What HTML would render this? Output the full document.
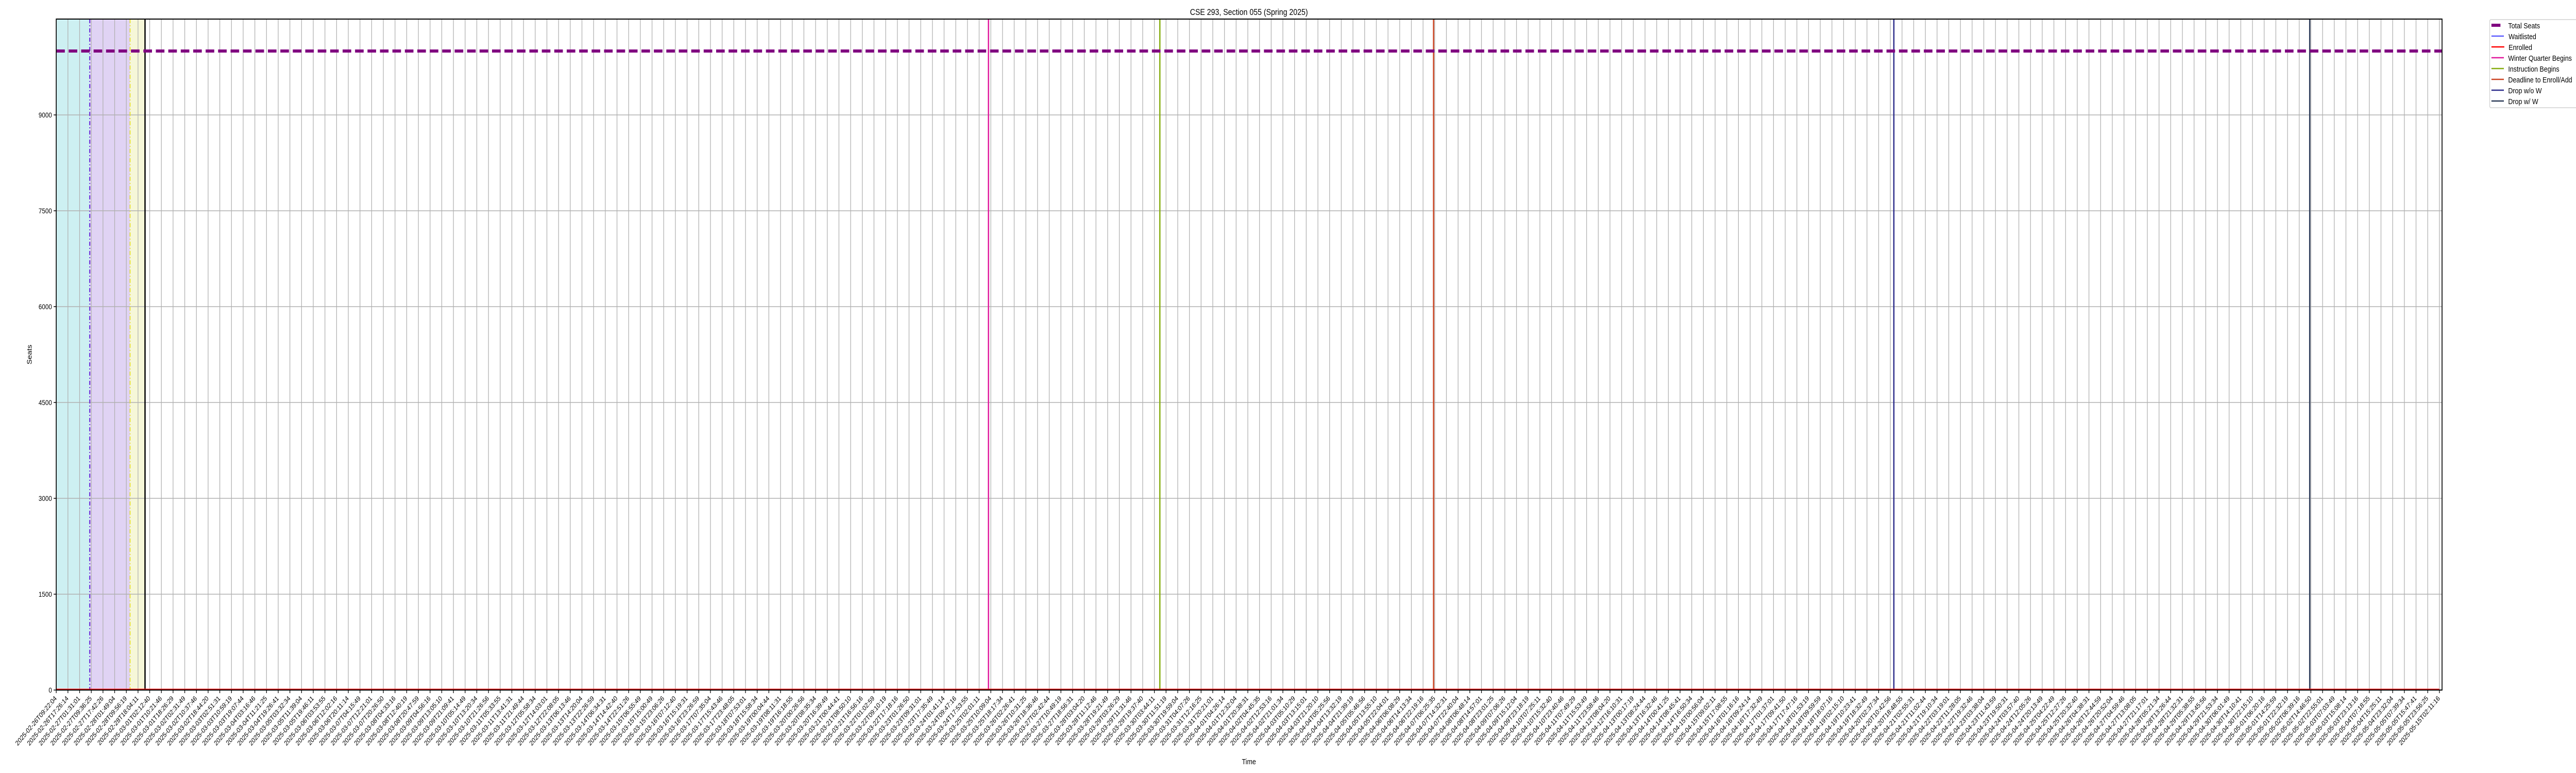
<!DOCTYPE html>
<html><head><meta charset="utf-8"><style>
html,body{margin:0;padding:0;background:#fff;overflow:hidden;width:100vw;height:100vh;}
svg{display:block;font-family:"Liberation Sans","DejaVu Sans",sans-serif;width:100vw;height:100vh;}
</style></head><body>
<svg id="chart" viewBox="0 0 6000 1500" preserveAspectRatio="none" xmlns="http://www.w3.org/2000/svg">
<text x="2909" y="29" font-size="17" text-anchor="middle" fill="#000">CSE 293, Section 055 (Spring 2025)</text>
<text x="2909" y="1483" font-size="15" text-anchor="middle" fill="#000">Time</text>
<text x="74" y="688" font-size="15" text-anchor="middle" fill="#000" transform="rotate(-90 74 688)">Seats</text>
<g id="plot"></g>
<g>
<rect x="5799" y="38" width="210" height="171" rx="3" fill="#fff" stroke="#d0d0d0" stroke-width="1.5"/>
<line x1="5803" y1="49" x2="5824" y2="49" stroke="purple" stroke-width="6"/>
<text x="5842" y="55" font-size="15">Total Seats</text>
<line x1="5803" y1="70" x2="5832" y2="70" stroke="blue" stroke-width="1.5"/>
<text x="5843" y="76" font-size="15">Waitlisted</text>
<line x1="5803" y1="91" x2="5833" y2="91" stroke="red" stroke-width="2.5"/>
<text x="5843" y="97" font-size="15">Enrolled</text>
<line x1="5803" y1="112" x2="5832" y2="112" stroke="#e0189c" stroke-width="2.5"/>
<text x="5842" y="118" font-size="15">Winter Quarter Begins</text>
<line x1="5803" y1="133" x2="5832" y2="133" stroke="#86ad10" stroke-width="2.5"/>
<text x="5842" y="139" font-size="15">Instruction Begins</text>
<line x1="5803" y1="154" x2="5832" y2="154" stroke="#cc4422" stroke-width="2.5"/>
<text x="5842" y="160" font-size="15">Deadline to Enroll/Add</text>
<line x1="5803" y1="175" x2="5832" y2="175" stroke="#2b2b8a" stroke-width="2.5"/>
<text x="5842" y="181" font-size="15">Drop w/o W</text>
<line x1="5803" y1="196" x2="5832" y2="196" stroke="#2c3a58" stroke-width="2.5"/>
<text x="5842" y="202" font-size="15">Drop w/ W</text>
</g>
</svg>
<script>
// ---- data ----
const yTicks = [0, 1500, 3000, 4500, 6000, 7500, 9000];
const totalSeats = 10000;
const enrolledValue = 0;
const waitlistedValue = 0;
const startLabel = "2025-02-26T09:22:04";
const endLabel = "2025-05-15T02:11:16";
const nTicks = 205;
// Tick labels (approximate ~8h sampling)
const xLabels = [];
(function(){
  let t = Date.UTC(2025,1,26,9,22,4);
  for (let i=0;i<nTicks;i++){
    if (i===nTicks-1){ xLabels.push(endLabel); break; }
    xLabels.push(new Date(t).toISOString().slice(0,19));
    t += (8*3600 + ((i*37)%300) + 250)*1000;
  }
  xLabels[0]=startLabel;
})();
const shadeStarts = [0, 2.87, 6.32];
const shadeEnds = [2.87, 6.32, 7.60];
const shadeColors = ["#cdf0f2","#e0d3f4","#f6f7d8"];
const eventIdx = [2.87, 6.32, 7.60, 79.8, 94.47, 117.9, 157.3, 192.9];
const eventNames = ["waitlist-open-line","enroll-open-line","first-pass-line","winter-quarter-begins-line","instruction-begins-line","deadline-enroll-line","drop-wo-w-line","drop-w-w-line"];

// ---- axes ----
const L=131, R=5688, T=37, B=1339, step=27.21;
const yMax=10500;
const X = i => L + i*step;
const Y = v => B - v/yMax*(B-T);
const NS="http://www.w3.org/2000/svg";
const g=document.getElementById('plot');
function mk(tag, attrs){const e=document.createElementNS(NS,tag);for(const k in attrs)e.setAttribute(k,attrs[k]);g.appendChild(e);return e;}

for(let k=0;k<shadeStarts.length;k++){
  const r=mk('rect',{x:X(shadeStarts[k]),y:T,width:X(shadeEnds[k])-X(shadeStarts[k]),height:B-T,fill:shadeColors[k]});
  
  
}
for(let i=0;i<xLabels.length;i++){
  const x=X(i);
  const gl=mk('line',{x1:x,y1:T,x2:x,y2:B,stroke:'#b0b0b0','stroke-width':1.5});
  
  
  const tk=mk('line',{x1:x,y1:B,x2:x,y2:B+6,stroke:'#000','stroke-width':1.5});
  
  
  const tx=mk('text',{x:x+2,y:B+17,'font-size':13.5,'text-anchor':'end',transform:`rotate(-45 ${x+2} ${B+17})`});
  tx.textContent=xLabels[i];
  
  
}
for(const v of yTicks){
  const y=Y(v);
  const gl=mk('line',{x1:L,y1:y,x2:R,y2:y,stroke:'#b0b0b0','stroke-width':1.5});
  
  
  const tk=mk('line',{x1:L-6,y1:y,x2:L,y2:y,stroke:'#000','stroke-width':1.5});
  
  
  const tx=mk('text',{x:L-10,y:y+5,'font-size':14,'text-anchor':'end'});
  tx.textContent=v;
  
  
}
const evStyles=[
 {stroke:'#6a28d8',w:2.5,dash:'8,4,2,4'},
 {stroke:'#e6e020',w:2,dash:'8,4,2,4'},
 {stroke:'#000',w:3,dash:''},
 {stroke:'#e0189c',w:3,dash:''},
 {stroke:'#86ad10',w:3,dash:''},
 {stroke:'#cc4422',w:3,dash:''},
 {stroke:'#2b2b8a',w:3,dash:''},
 {stroke:'#2c3a58',w:3,dash:''}];
for(let k=0;k<eventIdx.length;k++){
  const x=X(eventIdx[k]);const s=evStyles[k];
  const a={x1:x,y1:T,x2:x,y2:B,stroke:s.stroke,'stroke-width':s.w};
  if(s.dash)a['stroke-dasharray']=s.dash;
  const l=mk('line',a);
  
  
}
const last=xLabels.length-1;
const wl=mk('line',{x1:X(0),y1:Y(waitlistedValue),x2:X(last),y2:Y(waitlistedValue),stroke:'blue','stroke-width':1.5});


const en=mk('line',{x1:X(0),y1:Y(enrolledValue)-1,x2:X(last),y2:Y(enrolledValue)-1,stroke:'red','stroke-width':3});


const ts=mk('line',{x1:L,y1:Y(totalSeats),x2:R,y2:Y(totalSeats),stroke:'purple','stroke-width':6,'stroke-dasharray':'20,9'});


const fr=mk('rect',{x:L,y:T,width:R-L,height:B-T,fill:'none',stroke:'#000','stroke-width':2});


</script>
</body></html>
